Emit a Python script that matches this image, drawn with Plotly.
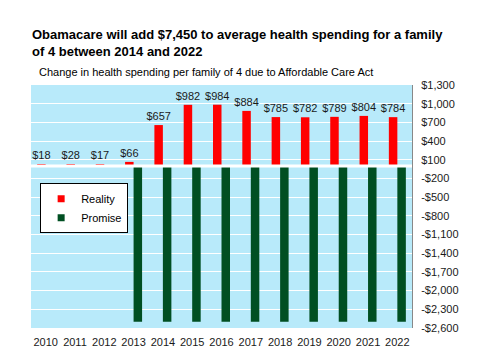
import plotly.graph_objects as go

years = ["2010", "2011", "2012", "2013", "2014", "2015", "2016", "2017",
         "2018", "2019", "2020", "2021", "2022"]
reality = [18, 28, 17, 66, 657, 982, 984, 884, 785, 782, 789, 804, 784]
promise = [None, None, None, -2500, -2500, -2500, -2500, -2500, -2500,
           -2500, -2500, -2500, -2500]
ytick_vals = list(range(-2600, 1301, 300))


def money(v):
    return ("-$" if v < 0 else "$") + f"{abs(v):,}"


ytick_text = [money(v) for v in ytick_vals]
reality_labels = [money(v) for v in reality]

FONT = "Liberation Sans, Arial, sans-serif"
RED = "#FF0000"
GREEN = "#004F22"

fig = go.Figure()
fig.add_trace(go.Bar(
    x=years, y=reality, name="Reality", marker_color=RED,
    marker_line_width=0, showlegend=False,
    text=reality_labels, textposition="outside", cliponaxis=False,
    constraintext="none",
    textfont=dict(family=FONT, size=11, color="#1a1a1a"),
))
fig.add_trace(go.Bar(
    x=years, y=promise, name="Promise", marker_color=GREEN,
    marker_line_width=0, showlegend=False,
))
# legend entries with small square symbols
fig.add_trace(go.Scatter(x=[None], y=[None], mode="markers", name="Reality",
                         marker=dict(symbol="square", size=7, color=RED)))
fig.add_trace(go.Scatter(x=[None], y=[None], mode="markers", name="Promise",
                         marker=dict(symbol="square", size=7, color=GREEN)))

fig.update_layout(
    width=480, height=360,
    margin=dict(l=31, r=68, t=85, b=30),
    paper_bgcolor="white", plot_bgcolor="#B8EAFA",
    barmode="group", bargap=0.42, bargroupgap=0,
    showlegend=True,
    legend=dict(x=0.024, y=0.596, xanchor="left", yanchor="top",
                bgcolor="white", bordercolor="black", borderwidth=1,
                font=dict(family=FONT, size=11, color="black"),
                itemwidth=30, tracegroupgap=0),
    xaxis=dict(showgrid=False, tickfont=dict(family=FONT, size=11, color="#1a1a1a"),
               ticks="", showline=False, ticklabelstandoff=6),
    yaxis=dict(side="right", range=[-2600, 1300], tickvals=ytick_vals,
               ticktext=ytick_text, showgrid=True, gridcolor="white", gridwidth=1,
               zeroline=False,
               showline=True, linecolor="#888888", linewidth=1,
               ticks="", ticklabelstandoff=6,
               tickfont=dict(family=FONT, size=11, color="#1a1a1a")),
    shapes=[dict(type="line", xref="paper", yref="y", x0=0, x1=1, y0=0, y1=0,
                 line=dict(color="white", width=3), layer="above")],
    annotations=[
        dict(text="<b>Obamacare will add $7,450 to average health spending for a family<br>of 4 between 2014 and 2022</b>",
             xref="paper", yref="paper", x=-0.003, y=1.0, xanchor="left", yanchor="bottom",
             yshift=24, align="left", showarrow=False,
             font=dict(family=FONT, size=13, color="black")),
        dict(text="Change in health spending per family of 4 due to Affordable Care Act",
             xref="paper", yref="paper", x=0.015, y=1.0, xanchor="left", yanchor="bottom",
             yshift=5, align="left", showarrow=False,
             font=dict(family=FONT, size=11, color="black")),
    ],
)

fig.write_html("out.html", config={"displayModeBar": False},
               post_script="document.body.style.margin='0';")
